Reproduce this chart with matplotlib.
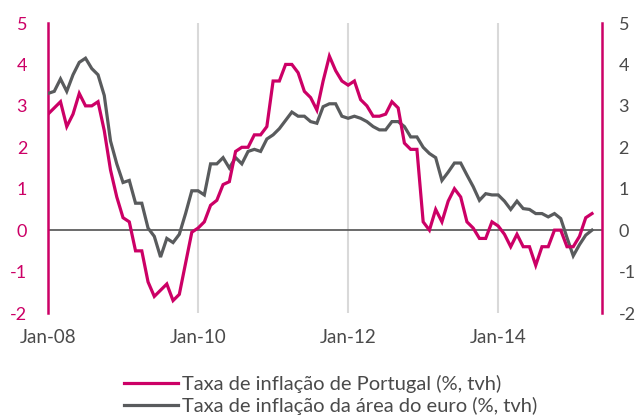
import matplotlib
matplotlib.use("Agg")
import matplotlib.pyplot as plt

# Monthly data, Jan-2008 .. Apr-2015
portugal = [
    2.8, 2.95, 3.1, 2.5, 2.8, 3.3, 3.0, 3.0, 3.1, 2.4, 1.45, 0.8,
    0.3, 0.2, -0.5, -0.5, -1.25, -1.6, -1.45, -1.3, -1.7, -1.55, -0.8, -0.05,
    0.05, 0.2, 0.6, 0.72, 1.1, 1.17, 1.9, 2.0, 2.0, 2.3, 2.3, 2.5,
    3.6, 3.6, 4.0, 4.0, 3.8, 3.35, 3.2, 2.9, 3.6, 4.2, 3.85, 3.6,
    3.5, 3.6, 3.15, 3.0, 2.75, 2.75, 2.8, 3.1, 2.95, 2.1, 1.95, 1.95,
    0.2, 0.0, 0.5, 0.2, 0.7, 1.0, 0.8, 0.2, 0.05, -0.2, -0.2, 0.2,
    0.1, -0.1, -0.4, -0.1, -0.4, -0.4, -0.85, -0.4, -0.4, 0.0, 0.0, -0.4,
    -0.4, -0.15, 0.3, 0.4,
]
euro = [
    3.3, 3.35, 3.65, 3.35, 3.75, 4.05, 4.15, 3.9, 3.75, 3.25, 2.15, 1.6,
    1.15, 1.2, 0.65, 0.65, 0.05, -0.15, -0.65, -0.2, -0.3, -0.1, 0.4, 0.95,
    0.95, 0.85, 1.6, 1.6, 1.75, 1.5, 1.75, 1.6, 1.9, 1.95, 1.9, 2.2,
    2.3, 2.45, 2.65, 2.85, 2.75, 2.75, 2.62, 2.58, 2.98, 3.05, 3.05, 2.75,
    2.7, 2.75, 2.7, 2.62, 2.5, 2.42, 2.42, 2.62, 2.62, 2.5, 2.25, 2.25,
    2.0, 1.85, 1.75, 1.2, 1.4, 1.62, 1.62, 1.33, 1.05, 0.72, 0.88, 0.85,
    0.85, 0.7, 0.5, 0.7, 0.52, 0.5, 0.4, 0.4, 0.32, 0.4, 0.28, -0.18,
    -0.62, -0.35, -0.12, 0.0,
]
xtick_pos = [0, 24, 48, 72]
xtick_labels = ["Jan-08", "Jan-10", "Jan-12", "Jan-14"]
yticks = [-2, -1, 0, 1, 2, 3, 4, 5]
labels = ["Taxa de inflação de Portugal (%, tvh)",
          "Taxa de inflação da área do euro (%, tvh)"]

PINK = "#CC0066"
GRAY = "#595B5D"
TEXT = "#4a4a4a"

plt.rcParams['font.family'] = ['Lato', 'DejaVu Sans']

fig = plt.figure(figsize=(6.38, 4.17), dpi=100)
W, H = 638, 417
x0, x1, ytop, ybot = 48, 602, 23, 313
ax = fig.add_axes([x0 / W, 1 - ybot / H, (x1 - x0) / W, (ybot - ytop) / H])

months = list(range(len(portugal)))
ax.plot(months, portugal, color=PINK, lw=2.3, label=labels[0], zorder=4,
        solid_joinstyle='miter')
ax.plot(months, euro, color=GRAY, lw=2.3, label=labels[1], zorder=3,
        solid_joinstyle='miter')
ax.axhline(0, color="#5f5f5f", lw=1.3, zorder=2)

ax.set_xlim(0, 88.6)
ax.set_ylim(-2, 5)
for xp in xtick_pos[1:]:
    ax.axvline(xp, color="#d9d9d9", lw=1.5, zorder=1)

ax.set_xticks(xtick_pos)
ax.set_xticklabels(xtick_labels)
ax.set_yticks(yticks)
ax.set_yticklabels([str(v) for v in yticks])
ax.tick_params(axis='x', length=0, pad=11.5, labelsize=13.5, labelcolor=TEXT)
ax.tick_params(axis='y', length=0, pad=15, labelsize=13, labelcolor=PINK)

ax2 = ax.twinx()
ax2.set_ylim(-2, 5)
ax2.set_yticks(yticks)
ax2.set_yticklabels([str(v) for v in yticks])
ax2.tick_params(axis='y', length=0, pad=12, labelsize=13, labelcolor=TEXT)

for a in (ax, ax2):
    for s in ("top", "bottom"):
        a.spines[s].set_visible(False)
ax.spines["right"].set_visible(False)
ax2.spines["left"].set_visible(False)
ax.spines["left"].set_color(PINK)
ax.spines["left"].set_linewidth(1.8)
ax2.spines["right"].set_color(PINK)
ax2.spines["right"].set_linewidth(1.8)

handles, labs = ax.get_legend_handles_labels()
leg = fig.legend(handles, labs, loc="upper left",
                 bbox_to_anchor=(116 / W, 1 - 367 / H),
                 frameon=False, fontsize=14.5, handlelength=2.7,
                 handletextpad=0.2, labelspacing=0.2, borderaxespad=0)
for t in leg.get_texts():
    t.set_color(TEXT)

fig.savefig("out.png", dpi=100)
